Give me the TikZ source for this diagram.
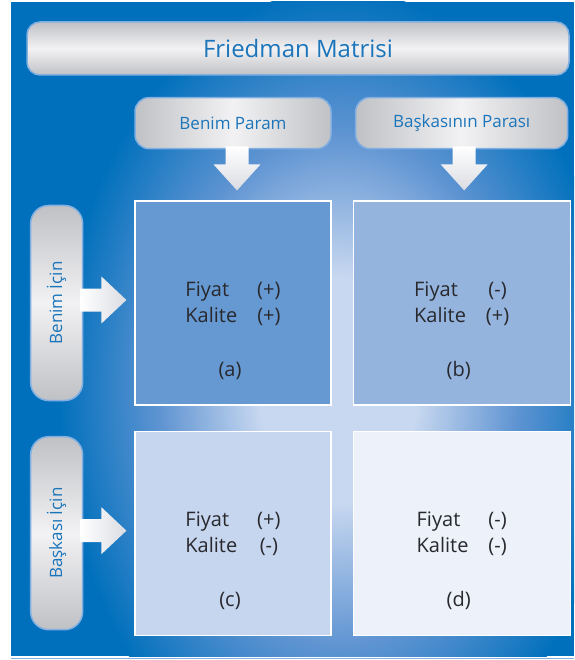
\documentclass[tikz,border=0pt]{standalone}
\usepackage{fontspec}
\setmainfont{Open Sans}
\usetikzlibrary{positioning,calc}

\definecolor{bgblue}{RGB}{0,112,188}
\definecolor{bgmid}{RGB}{95,148,210}
\definecolor{bglight}{RGB}{200,216,240}
\definecolor{boxline}{RGB}{130,175,225}
\definecolor{boxgray}{RGB}{192,193,197}
\definecolor{boxlight}{RGB}{242,242,244}
\definecolor{boxtext}{RGB}{27,117,187}
\definecolor{cella}{RGB}{102,153,210}
\definecolor{cellb}{RGB}{148,180,222}
\definecolor{cellc}{RGB}{198,214,238}
\definecolor{celld}{RGB}{236,241,250}
\definecolor{cellink}{RGB}{40,40,45}
\definecolor{arrowgray}{RGB}{218,220,226}

\pgfdeclareradialshading{bgglow}{\pgfpoint{0bp}{0bp}}{color(0bp)=(bglight); color(7bp)=(bglight); color(16bp)=(bgmid); color(25bp)=(bgblue); color(50bp)=(bgblue)}

\begin{document}
\begin{tikzpicture}[x=1pt,y=1pt,
    cell/.style={draw=white, line width=1.2pt, inner sep=0pt, minimum height=204pt},
    titlebox/.style={draw=boxline, line width=1.5pt, rounded corners=13pt, top color=boxgray, bottom color=boxgray, middle color=boxlight, text=boxtext, font=\fontsize{24}{28}\selectfont, inner sep=0pt},
    hbox/.style={draw=boxline, line width=1.5pt, rounded corners=14pt, left color=boxgray, right color=boxgray, middle color=boxlight, text=boxtext, font=\fontsize{17}{20}\selectfont, inner sep=0pt, minimum height=51pt},
    vbox/.style={draw=boxline, line width=1.5pt, rounded corners=18pt, top color=boxgray, bottom color=boxgray, middle color=boxlight, text=boxtext, font=\fontsize{17}{20}\selectfont, inner sep=0pt, minimum width=52pt},
    celltext/.style={text=cellink, font=\fontsize{20}{26}\selectfont, inner sep=0pt, anchor=base},
    downarrow/.style={top color=white, bottom color=arrowgray},
    rightarrow/.style={left color=white, right color=arrowgray}]
    \useasboundingbox (0,0) rectangle (574,-660);

    % background
    \fill[bgblue] (11,-2) rectangle (574,-656);
    \begin{scope}
        \clip (11,-2) rectangle (574,-656);
        \shade[shading=bgglow] (338,-390) ellipse [x radius=280, y radius=400];
    \end{scope}
    \draw[boxline, line width=1pt] (11,-658.5) -- (574,-658.5);

    % matrix cells
    \node[cell, fill=cella, minimum width=196pt] (a) at (233,-303) {};
    \node[cell, fill=cellb, minimum width=217pt, right=21pt of a] (b) {};
    \node[cell, fill=cellc, minimum width=196pt, below=25pt of a] (c) {};
    \node[cell, fill=celld, minimum width=217pt, right=21pt of c] (d) {};

    % headings
    \node[titlebox, minimum width=542pt, minimum height=53pt] (title) at (298,-48.5) {Friedman Matrisi};
    \node[hbox, minimum width=196pt, above=51pt of a] (bp) {Benim Param};
    \node[hbox, minimum width=212pt, above=51pt of b] (bkp) {Başkasının Parası};
    \node[vbox, minimum height=195pt, left=51pt of a] (bi) {\rotatebox{90}{Benim İçin}};
    \node[vbox, minimum height=193pt, left=51pt of c] (bki) {\rotatebox{90}{Başkası İçin}};

    % arrows
    \shade[downarrow] ($(bp.south)+(-7.5,3)$) -- ++(0,-18) -- ++(-12,0) -- ++(23.5,-26) -- ++(23.5,26) -- ++(-12,0) -- ++(0,18) -- cycle;
    \shade[downarrow] ($(bkp.south)+(-9,3)$) -- ++(0,-18) -- ++(-12,0) -- ++(23.5,-26) -- ++(23.5,26) -- ++(-12,0) -- ++(0,18) -- cycle;
    \shade[rightarrow] ($(bi.east)+(-3,14.5)$) -- ++(21,0) -- ++(0,12) -- ++(25,-23.5) -- ++(-25,-23.5) -- ++(0,12) -- ++(-21,0) -- cycle;
    \shade[rightarrow] ($(bki.east)+(-3,14)$) -- ++(21,0) -- ++(0,12) -- ++(25,-23.5) -- ++(-25,-23.5) -- ++(0,12) -- ++(-21,0) -- cycle;

    % cell texts
    \node[celltext] (atxt) at ($(a.north)+(0,-96)$) {\begin{tabular}[t]{@{}l@{\hspace{20pt}}c@{}}Fiyat & (+)\\ Kalite & (+)\end{tabular}};
    \node[celltext] (btxt) at ($(b.north)+(0,-96)$) {\begin{tabular}[t]{@{}l@{\hspace{20pt}}c@{}}Fiyat & (-)\\ Kalite & (+)\end{tabular}};
    \node[celltext] (ctxt) at ($(c.north)+(0,-96)$) {\begin{tabular}[t]{@{}l@{\hspace{20pt}}c@{}}Fiyat & (+)\\ Kalite & (-)\end{tabular}};
    \node[celltext] (dtxt) at ($(d.north)+(0,-96)$) {\begin{tabular}[t]{@{}l@{\hspace{20pt}}c@{}}Fiyat & (-)\\ Kalite & (-)\end{tabular}};
    \node[celltext] (alab) at ($(a.north)+(-3,-176)$) {(a)};
    \node[celltext] (blab) at ($(b.north)+(-3,-176)$) {(b)};
    \node[celltext] (clab) at ($(c.north)+(-3,-176)$) {(c)};
    \node[celltext] (dlab) at ($(d.north)+(-3,-176)$) {(d)};
\end{tikzpicture}
\end{document}
